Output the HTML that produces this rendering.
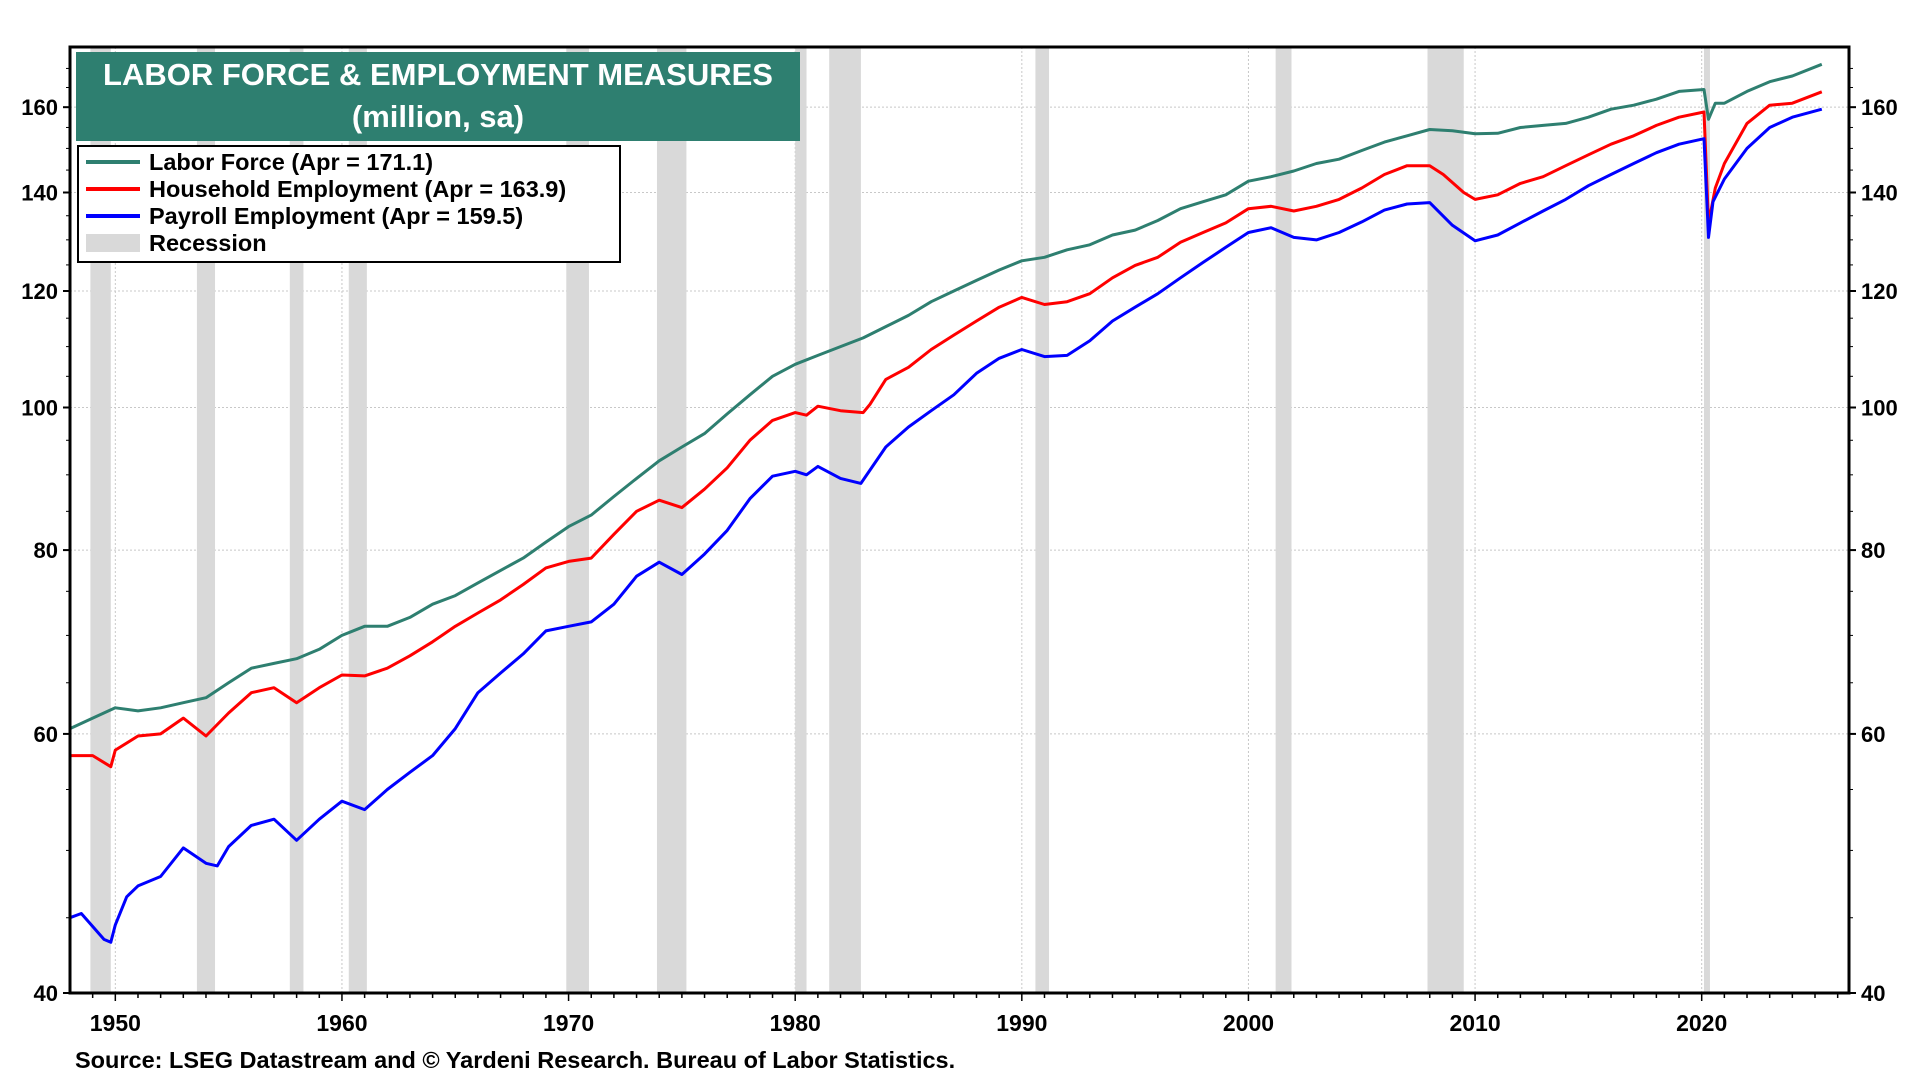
<!DOCTYPE html>
<html><head><meta charset="utf-8"><style>
body{margin:0;background:#fff;font-family:"Liberation Sans",Arial,sans-serif;}
svg text{font-family:"Liberation Sans",Arial,sans-serif;font-weight:bold;}
</style></head><body>
<svg id="chart" width="1920" height="1080" viewBox="0 0 1920 1080" xmlns="http://www.w3.org/2000/svg">
<g id="grid"></g>
<g id="rec"></g>
<g id="series"></g>
<g id="axes"></g>
<rect x="76" y="52" width="724" height="89" fill="#2e7f70"/>
<text x="438" y="85" fill="#fff" font-size="31" text-anchor="middle">LABOR FORCE &amp; EMPLOYMENT MEASURES</text>
<text x="438" y="127" fill="#fff" font-size="31" text-anchor="middle">(million, sa)</text>
<g>
<rect x="78" y="146" width="542" height="116" fill="#fff" stroke="#000" stroke-width="2"/>
<line x1="86" y1="162" x2="140" y2="162" stroke="#2e7f70" stroke-width="4"/>
<text x="149" y="170" font-size="23.5">Labor Force (Apr = 171.1)</text>
<line x1="86" y1="189" x2="140" y2="189" stroke="#ff0000" stroke-width="4"/>
<text x="149" y="197" font-size="23.5">Household Employment (Apr = 163.9)</text>
<line x1="86" y1="216" x2="140" y2="216" stroke="#0000ff" stroke-width="4"/>
<text x="149" y="224" font-size="23.5">Payroll Employment (Apr = 159.5)</text>
<rect x="86" y="234" width="54" height="18" fill="#d9d9d9"/>
<text x="149" y="251" font-size="23.5">Recession</text>
</g>
<text x="75" y="1068" font-size="23.5">Source: LSEG Datastream and © Yardeni Research. Bureau of Labor Statistics.</text>
</svg>
<script>
const recessions=[[1948.9,1949.8],[1953.6,1954.4],[1957.7,1958.3],[1960.3,1961.1],[1969.9,1970.9],[1973.9,1975.2],[1980.0,1980.5],[1981.5,1982.9],[1990.6,1991.2],[2001.2,2001.9],[2007.9,2009.5],[2020.1,2020.3]];
const yTicks=[40,60,80,100,120,140,160];
const xTicks=[1950,1960,1970,1980,1990,2000,2010,2020];
const lfYears=[1948,1949,1950,1951,1952,1953,1954,1955,1956,1957,1958,1959,1960,1961,1962,1963,1964,1965,1966,1967,1968,1969,1970,1971,1972,1973,1974,1975,1976,1977,1978,1979,1980,1981,1982,1983,1984,1985,1986,1987,1988,1989,1990,1991,1992,1993,1994,1995,1996,1997,1998,1999,2000,2001,2002,2003,2004,2005,2006,2007,2008,2009,2010,2011,2012,2013,2014,2015,2016,2017,2018,2019,2020.1,2020.3,2020.6,2021,2022,2023,2024,2025.3];
const lfValues=[60.5,61.5,62.5,62.2,62.5,63,63.5,65,66.5,67,67.5,68.5,70,71,71,72,73.5,74.5,76,77.5,79,81,83,84.5,87,89.5,92,94,96,99,102,105,107,108.5,110,111.5,113.5,115.5,118,120,122,124,125.8,126.5,128,129,131,132,134,136.5,138,139.5,142.5,143.5,144.8,146.5,147.5,149.5,151.5,153,154.5,154.2,153.5,153.6,155,155.5,156,157.5,159.5,160.5,162,164,164.5,157,161,161,164,166.5,168,171.1];
const heYears=[1948,1949,1949.8,1950,1951,1952,1953,1954,1955,1956,1957,1958,1959,1960,1961,1962,1963,1964,1965,1966,1967,1968,1969,1970,1971,1972,1973,1974,1975,1976,1977,1978,1979,1980,1980.5,1981,1982,1983,1983.3,1984,1985,1986,1987,1988,1989,1990,1991,1992,1993,1994,1995,1996,1997,1998,1999,2000,2001,2002,2003,2004,2005,2006,2007,2008,2008.6,2009.5,2010,2011,2012,2013,2014,2015,2016,2017,2018,2019,2020.1,2020.3,2020.6,2021,2022,2023,2024,2025.3];
const heValues=[58,58,57,58.5,59.8,60,61.5,59.8,62,64,64.5,63,64.5,65.8,65.7,66.5,67.8,69.3,71,72.5,74,75.8,77.8,78.6,79,82,85,86.5,85.5,88,91,95,98,99.2,98.8,100.2,99.5,99.2,100.5,104.5,106.5,109.5,112,114.5,117,118.8,117.5,118,119.5,122.5,124.9,126.5,129.5,131.5,133.5,136.5,137,136,137,138.5,141,144,146,146,144,140,138.5,139.5,142,143.5,146,148.5,151,153,155.5,157.5,158.8,133.4,141,146.5,156,160.5,161,163.9];
const pyYears=[1948,1948.5,1949.5,1949.8,1950,1950.5,1951,1952,1953,1954,1954.5,1955,1956,1957,1958,1959,1960,1961,1962,1963,1964,1965,1966,1967,1968,1969,1970,1971,1972,1973,1974,1975,1976,1977,1978,1979,1980,1980.5,1981,1982,1982.9,1984,1985,1986,1987,1988,1989,1990,1991,1992,1993,1994,1995,1996,1997,1998,1999,2000,2001,2002,2003,2004,2005,2006,2007,2008,2009,2010,2011,2012,2013,2014,2015,2016,2017,2018,2019,2020.1,2020.3,2020.5,2021,2022,2023,2024,2025.3];
const pyValues=[45,45.3,43.5,43.3,44.5,46.5,47.3,48,50.2,49,48.8,50.3,52,52.5,50.8,52.5,54,53.3,55,56.5,58,60.5,64,66,68,70.5,71,71.5,73.5,76.8,78.5,77,79.5,82.5,86.7,89.8,90.5,90,91.2,89.5,88.8,94,97,99.5,102,105.5,108,109.5,108.3,108.5,111,114.5,117,119.5,122.5,125.5,128.5,131.5,132.5,130.5,130,131.5,133.7,136.2,137.5,137.8,133,129.8,131,133.5,136,138.5,141.5,144,146.5,149,151,152.3,130.5,138,143,150,155,157.5,159.5];

const L=70,R=1849,T=47,B=993,X0=1948,X1=2026.5,YMIN=40,YMAX=175.8;
const NS='http://www.w3.org/2000/svg';
function xS(v){return L+(v-X0)/(X1-X0)*(R-L);}
function yS(v){return B-Math.log(v/YMIN)/Math.log(YMAX/YMIN)*(B-T);}
function mk(tag,attrs,parent){const e=document.createElementNS(NS,tag);for(const k in attrs)e.setAttribute(k,attrs[k]);parent.appendChild(e);return e;}
const grid=document.getElementById('grid'),rec=document.getElementById('rec'),ser=document.getElementById('series'),ax=document.getElementById('axes');
yTicks.forEach(v=>{
  const g=mk('line',{x1:L,x2:R,y1:yS(v),y2:yS(v),stroke:'#c8c8c8','stroke-dasharray':'2,2','stroke-width':1},grid);
  
  
  const t1=mk('text',{x:L-12,y:yS(v)+8,'font-size':22,'text-anchor':'end'},ax);t1.textContent=v;
  
  
  const t2=mk('text',{x:R+12,y:yS(v)+8,'font-size':22},ax);t2.textContent=v;
  
  
  mk('line',{x1:L-7,x2:L,y1:yS(v),y2:yS(v),stroke:'#000','stroke-width':2},ax);
  mk('line',{x1:R,x2:R+7,y1:yS(v),y2:yS(v),stroke:'#000','stroke-width':2},ax);
});
for(let v=45;v<175;v+=5){if(v%20===0)continue;mk('line',{x1:L-4,x2:L,y1:yS(v),y2:yS(v),stroke:'#000','stroke-width':1},ax);mk('line',{x1:R,x2:R+4,y1:yS(v),y2:yS(v),stroke:'#000','stroke-width':1},ax);}
xTicks.forEach(v=>{
  const g=mk('line',{x1:xS(v),x2:xS(v),y1:T,y2:B,stroke:'#c8c8c8','stroke-dasharray':'2,2','stroke-width':1},grid);
  
  
  const t=mk('text',{x:xS(v),y:1031,'font-size':23,'text-anchor':'middle'},ax);t.textContent=v;
  
  
});
for(let y=1949;y<=2026;y++){mk('line',{x1:xS(y),x2:xS(y),y1:B,y2:B+(y%10===0?8:5),stroke:'#000','stroke-width':1.5},ax);}
recessions.forEach(r=>{
  const e=mk('rect',{x:xS(r[0]),y:T,width:Math.max(xS(r[1])-xS(r[0]),6),height:B-T,fill:'#d9d9d9'},rec);
  
  
});
function line(xs,vs,color,name){
  const d=xs.map((x,i)=>(i?'L':'M')+xS(x).toFixed(1)+','+yS(vs[i]).toFixed(1)).join('');
  const p=mk('path',{d:d,fill:'none',stroke:color,'stroke-width':3,'stroke-linejoin':'round'},ser);
  
  
}
line(lfYears,lfValues,'#2e7f70','labor-force-line');
line(heYears,heValues,'#ff0000','household-employment-line');
line(pyYears,pyValues,'#0000ff','payroll-employment-line');
const fr=mk('rect',{x:L,y:T,width:R-L,height:B-T,fill:'none',stroke:'#000','stroke-width':3},ax);


</script>
</body></html>
